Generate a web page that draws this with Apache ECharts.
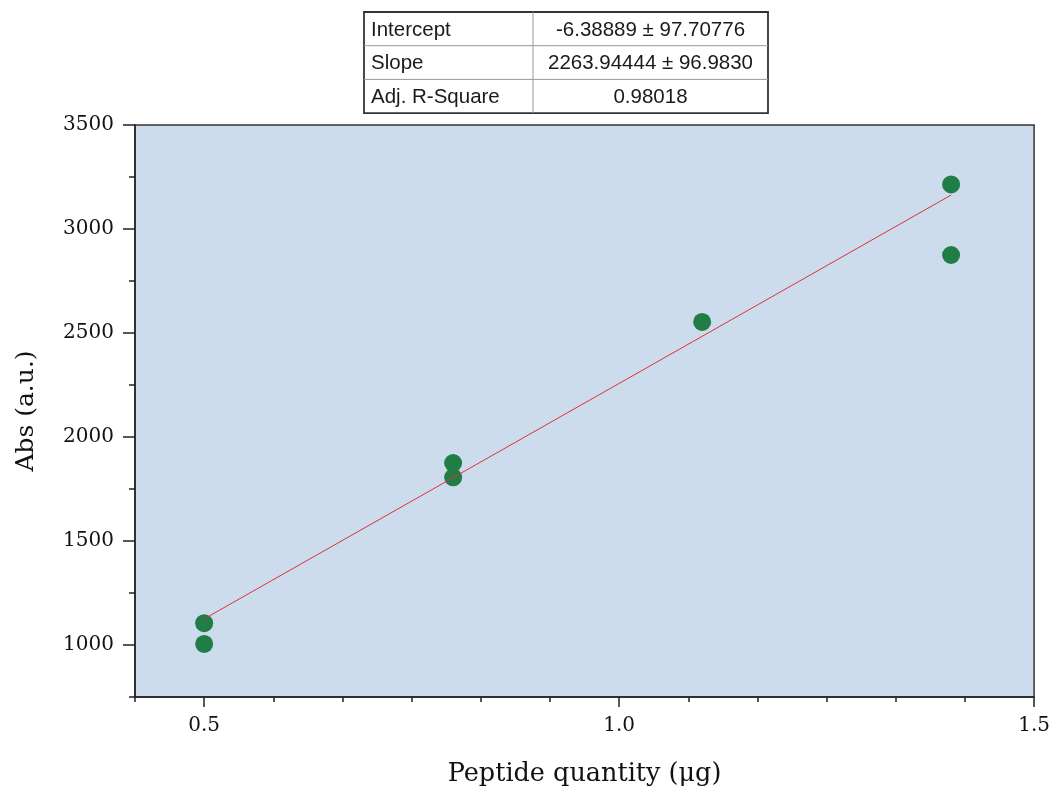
<!DOCTYPE html>
<html>
<head>
<meta charset="utf-8">
<script src="https://cdn.jsdelivr.net/npm/echarts@6/dist/echarts.min.js"></script>
<style>html,body{margin:0;padding:0;background:#fff;}#c{width:1053px;height:792px;}</style>
</head>
<body>
<div id="c"></div>
<script>
// Data
var pointX = [0.5, 0.5, 0.8, 0.8, 1.1, 1.4, 1.4];
var pointY = [1105, 1005, 1875, 1806, 2553, 3214, 2875];
var fitX = [0.5, 1.4];
var intercept = -6.38889;
var slope = 2263.94444;
var tableRows = ['Intercept', 'Slope', 'Adj. R-Square'];
var tableVals = ['-6.38889 \u00b1 97.70776', '2263.94444 \u00b1 96.9830', '0.98018'];
var xMajor = [0.5, 1.0, 1.5];
var xMinor = [5/12, 7/12, 8/12, 9/12, 10/12, 11/12, 13/12, 14/12, 15/12, 16/12, 17/12];
var yMajor = [1000, 1500, 2000, 2500, 3000, 3500];
var yMinor = [750, 1250, 1750, 2250, 2750, 3250];
var xTitle = 'Peptide quantity (\u03bcg)';
var yTitle = 'Abs (a.u.)';

var chart = echarts.init(document.getElementById('c'), null, {renderer: 'canvas'});
var GL = 135, GT = 125, GR = 1035, GB = 698;

var serif = 'DejaVu Serif';
var tableX0 = 364, tableX1 = 768, tableY0 = 12, tableRowH = 33.7, tableDiv = 533;
var g = [];
g.push({type: 'rect', shape: {x: tableX0, y: tableY0, width: tableX1 - tableX0, height: tableRowH * 3}, style: {fill: '#fff', stroke: '#333', lineWidth: 1.8}, z: 100});
g.push({type: 'line', shape: {x1: tableDiv, y1: tableY0, x2: tableDiv, y2: tableY0 + tableRowH * 3}, style: {stroke: '#999', lineWidth: 1}, z: 101});
for (var i = 1; i < 3; i++) {
  g.push({type: 'line', shape: {x1: tableX0, y1: tableY0 + tableRowH * i, x2: tableX1, y2: tableY0 + tableRowH * i}, style: {stroke: '#999', lineWidth: 1}, z: 101});
}
for (var j = 0; j < tableRows.length; j++) {
  var cy = tableY0 + tableRowH * (j + 0.5) + 1;
  g.push({type: 'text', x: 371, y: cy, style: {text: tableRows[j], font: '20.5px "Liberation Sans", Arial', fill: '#1a1a1a', textAlign: 'left', textVerticalAlign: 'middle'}, z: 102});
  g.push({type: 'text', x: (tableDiv + tableX1) / 2, y: cy, style: {text: tableVals[j], font: '20.5px "Liberation Sans", Arial', fill: '#1a1a1a', textAlign: 'center', textVerticalAlign: 'middle'}, z: 102});
}

var xMin = 5/12, xMax = 1.5, yMin = 750, yMax = 3500;
var fitData = fitX.map(function (x) { return [x, intercept + slope * x]; });
var scatterData = pointX.map(function (x, k) { return [x, pointY[k]]; });

chart.setOption({
  animation: false,
  grid: {left: GL, top: GT, right: 1053 - GR, bottom: 792 - GB, show: true, backgroundColor: '#cddced', borderColor: '#333', borderWidth: 1.5, containLabel: false},
  xAxis: [
    {type: 'value', min: xMin, max: xMax, interval: 1/12,
     axisLine: {show: true, onZero: false, lineStyle: {color: '#222', width: 1.5}},
     axisTick: {show: true, customValues: xMajor, length: 10, lineStyle: {color: '#222', width: 1.5}},
     axisLabel: {show: true, customValues: xMajor, margin: 19, formatter: function (v) { return v.toFixed(1); }, fontFamily: serif, fontSize: 20, color: '#111'},
     splitLine: {show: false},
     name: xTitle, nameLocation: 'middle', nameGap: 64, nameTextStyle: {fontFamily: serif, fontSize: 25.5, color: '#111'}},
    {type: 'value', min: xMin, max: xMax, interval: 1/12, position: 'bottom',
     axisLine: {show: false, onZero: false},
     axisTick: {show: true, customValues: xMinor, length: 5, lineStyle: {color: '#222', width: 1.5}},
     axisLabel: {show: false}, splitLine: {show: false}}
  ],
  yAxis: [
    {type: 'value', min: yMin, max: yMax, interval: 250,
     axisLine: {show: true, onZero: false, lineStyle: {color: '#222', width: 1.5}},
     axisTick: {show: true, customValues: yMajor, length: 12, lineStyle: {color: '#222', width: 1.5}},
     axisLabel: {show: true, customValues: yMajor, margin: 21, formatter: function (v) { return String(v); }, fontFamily: serif, fontSize: 20, color: '#111'},
     splitLine: {show: false},
     name: yTitle, nameLocation: 'middle', nameGap: 96, nameTextStyle: {fontFamily: serif, fontSize: 25, color: '#111'}},
    {type: 'value', min: yMin, max: yMax, interval: 250, position: 'left',
     axisLine: {show: false, onZero: false},
     axisTick: {show: true, customValues: yMinor, length: 6, lineStyle: {color: '#222', width: 1.5}},
     axisLabel: {show: false}, splitLine: {show: false}}
  ],
  series: [
    {type: 'line', data: fitData, symbol: 'none', lineStyle: {color: '#e0303a', width: 1}, z: 3, silent: true},
    {type: 'scatter', data: scatterData, symbol: 'circle', symbolSize: 18, itemStyle: {color: '#1f7d45', opacity: 1}, z: 2}
  ],
  graphic: g
});
</script>
</body>
</html>
